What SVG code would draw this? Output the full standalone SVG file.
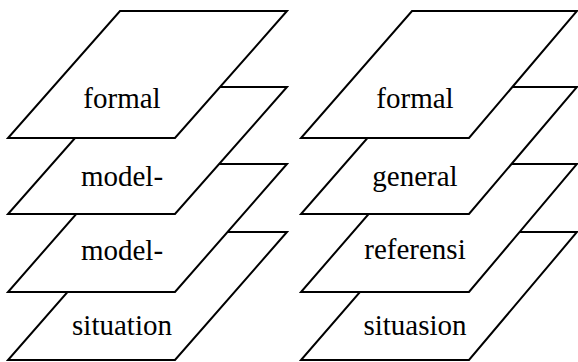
<svg xmlns="http://www.w3.org/2000/svg" width="578" height="362" viewBox="0 0 578 362">
<style>
.plane{fill:#fff;stroke:#000;stroke-width:2;stroke-linejoin:miter}
.lbl{font-family:"Liberation Serif","Noto Serif","Tinos","Nimbus Roman","FreeSerif","Times New Roman",serif;font-size:29px;fill:#000;text-anchor:middle}
</style>
<rect width="578" height="362" fill="#fff"/>
<g id="connectors"/>
<g id="left-stack">
<g id="left-situation"><polygon class="plane" points="8,360 175,360 287,232 120,232"/><text class="lbl" x="122" y="335">situation</text></g>
<g id="left-model2"><polygon class="plane" points="8,292 175,292 287,164 120,164"/><text class="lbl" x="122" y="260">model-</text></g>
<g id="left-model1"><polygon class="plane" points="8,214 175,214 287,87 120,87"/><text class="lbl" x="122" y="186">model-</text></g>
<g id="left-formal"><polygon class="plane" points="8,138 175,138 287,11 120,11"/><text class="lbl" x="122" y="108">formal</text></g>
</g>
<g id="right-stack">
<g id="right-situasion"><polygon class="plane" points="301,360 469,360 577,232 412,232"/><text class="lbl" x="415" y="335">situasion</text></g>
<g id="right-referensi"><polygon class="plane" points="301,292 469,292 577,164 412,164"/><text class="lbl" x="415" y="259">referensi</text></g>
<g id="right-general"><polygon class="plane" points="301,214 469,214 577,87 412,87"/><text class="lbl" x="415" y="186">general</text></g>
<g id="right-formal"><polygon class="plane" points="301,138 469,138 577,11 412,11"/><text class="lbl" x="415" y="108">formal</text></g>
</g>
</svg>
